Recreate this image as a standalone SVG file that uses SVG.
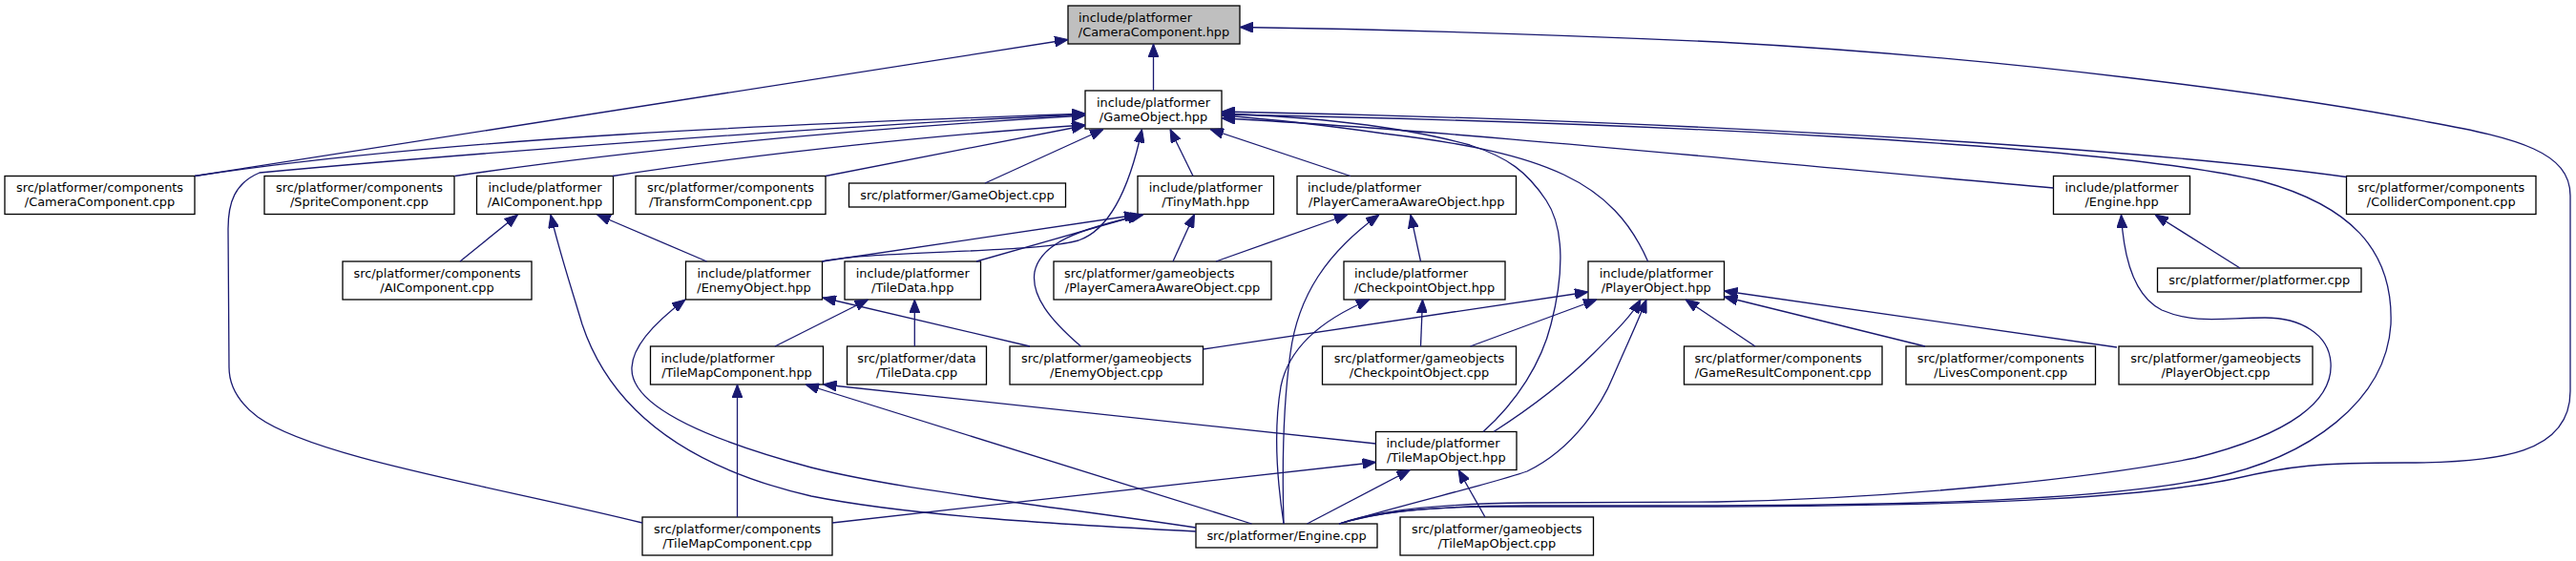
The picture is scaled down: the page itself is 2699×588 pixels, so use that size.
<svg xmlns="http://www.w3.org/2000/svg" width="2699" height="588" viewBox="0 0 2699 588">
<defs>
<style>
.n rect{fill:#fff;stroke:#000;stroke-width:1.3}
.root rect{fill:#bfbfbf}
text{font-family:"DejaVu Sans","Liberation Sans",sans-serif;font-size:12.9px;fill:#000}
.c{text-anchor:middle}
.l{text-anchor:start}
#edges path{fill:none;stroke:#191970;stroke-width:1.3;marker-end:url(#a)}
</style>
<marker id="a" viewBox="0 0 14 11" refX="14" refY="5.5" markerWidth="14" markerHeight="11" markerUnits="userSpaceOnUse" orient="auto">
<path d="M0,0 L14,5.5 L0,11 z" fill="#191970" stroke="#191970" stroke-width="1"/>
</marker>
</defs>
<rect width="2699" height="588" fill="#fff"/>
<g id="nodes">
<g id="n_CameraComponent_hpp" class="n root"><rect x="1119" y="6" width="180" height="40"/><text class="l" x="1130" y="22.5">include/platformer</text><text class="c" x="1209" y="37.5">/CameraComponent.hpp</text></g>
<g id="n_GameObject_hpp" class="n"><rect x="1137" y="95" width="143" height="40"/><text class="c" x="1208.5" y="111.5">include/platformer</text><text class="c" x="1208.5" y="126.5">/GameObject.hpp</text></g>
<g id="n_CameraComponent_cpp" class="n"><rect x="5" y="184.5" width="199" height="40"/><text class="c" x="104.5" y="201">src/platformer/components</text><text class="c" x="104.5" y="216">/CameraComponent.cpp</text></g>
<g id="n_SpriteComponent_cpp" class="n"><rect x="277" y="184.5" width="199" height="40"/><text class="c" x="376.5" y="201">src/platformer/components</text><text class="c" x="376.5" y="216">/SpriteComponent.cpp</text></g>
<g id="n_AIComponent_hpp" class="n"><rect x="499.5" y="184.5" width="143" height="40"/><text class="c" x="571" y="201">include/platformer</text><text class="c" x="571" y="216">/AIComponent.hpp</text></g>
<g id="n_TransformComponent_cpp" class="n"><rect x="666" y="184.5" width="199" height="40"/><text class="c" x="765.5" y="201">src/platformer/components</text><text class="c" x="765.5" y="216">/TransformComponent.cpp</text></g>
<g id="n_GameObject_cpp" class="n"><rect x="889.5" y="192" width="227" height="25"/><text class="c" x="1003" y="209">src/platformer/GameObject.cpp</text></g>
<g id="n_TinyMath_hpp" class="n"><rect x="1192" y="184.5" width="142.5" height="40"/><text class="c" x="1263.25" y="201">include/platformer</text><text class="c" x="1263.25" y="216">/TinyMath.hpp</text></g>
<g id="n_PlayerCameraAwareObject_hpp" class="n"><rect x="1359" y="184.5" width="229.5" height="40"/><text class="l" x="1370" y="201">include/platformer</text><text class="c" x="1473.75" y="216">/PlayerCameraAwareObject.hpp</text></g>
<g id="n_Engine_hpp" class="n"><rect x="2151.5" y="184.5" width="143" height="40"/><text class="c" x="2223" y="201">include/platformer</text><text class="c" x="2223" y="216">/Engine.hpp</text></g>
<g id="n_ColliderComponent_cpp" class="n"><rect x="2458.5" y="184.5" width="198.5" height="40"/><text class="c" x="2557.75" y="201">src/platformer/components</text><text class="c" x="2557.75" y="216">/ColliderComponent.cpp</text></g>
<g id="n_AIComponent_cpp" class="n"><rect x="359" y="274" width="198" height="40"/><text class="c" x="458" y="290.5">src/platformer/components</text><text class="c" x="458" y="305.5">/AIComponent.cpp</text></g>
<g id="n_EnemyObject_hpp" class="n"><rect x="718.5" y="274" width="143" height="40"/><text class="c" x="790" y="290.5">include/platformer</text><text class="c" x="790" y="305.5">/EnemyObject.hpp</text></g>
<g id="n_TileData_hpp" class="n"><rect x="885" y="274" width="142.5" height="40"/><text class="c" x="956.25" y="290.5">include/platformer</text><text class="c" x="956.25" y="305.5">/TileData.hpp</text></g>
<g id="n_PlayerCameraAwareObject_cpp" class="n"><rect x="1104" y="274" width="228" height="40"/><text class="l" x="1115" y="290.5">src/platformer/gameobjects</text><text class="c" x="1218" y="305.5">/PlayerCameraAwareObject.cpp</text></g>
<g id="n_CheckpointObject_hpp" class="n"><rect x="1408" y="274" width="169" height="40"/><text class="l" x="1419" y="290.5">include/platformer</text><text class="c" x="1492.5" y="305.5">/CheckpointObject.hpp</text></g>
<g id="n_PlayerObject_hpp" class="n"><rect x="1664" y="274" width="142.5" height="40"/><text class="c" x="1735.25" y="290.5">include/platformer</text><text class="c" x="1735.25" y="305.5">/PlayerObject.hpp</text></g>
<g id="n_platformer_cpp" class="n"><rect x="2260.5" y="281" width="213.5" height="25"/><text class="c" x="2367.25" y="298">src/platformer/platformer.cpp</text></g>
<g id="n_TileMapComponent_hpp" class="n"><rect x="681.5" y="363" width="181" height="40"/><text class="l" x="692.5" y="379.5">include/platformer</text><text class="c" x="772" y="394.5">/TileMapComponent.hpp</text></g>
<g id="n_TileData_cpp" class="n"><rect x="887.5" y="363" width="146" height="40"/><text class="c" x="960.5" y="379.5">src/platformer/data</text><text class="c" x="960.5" y="394.5">/TileData.cpp</text></g>
<g id="n_EnemyObject_cpp" class="n"><rect x="1058" y="363" width="202.5" height="40"/><text class="c" x="1159.25" y="379.5">src/platformer/gameobjects</text><text class="c" x="1159.25" y="394.5">/EnemyObject.cpp</text></g>
<g id="n_CheckpointObject_cpp" class="n"><rect x="1385.5" y="363" width="203" height="40"/><text class="c" x="1487" y="379.5">src/platformer/gameobjects</text><text class="c" x="1487" y="394.5">/CheckpointObject.cpp</text></g>
<g id="n_GameResultComponent_cpp" class="n"><rect x="1764.5" y="363" width="207.5" height="40"/><text class="l" x="1775.5" y="379.5">src/platformer/components</text><text class="c" x="1868.25" y="394.5">/GameResultComponent.cpp</text></g>
<g id="n_LivesComponent_cpp" class="n"><rect x="1997" y="363" width="198.5" height="40"/><text class="c" x="2096.25" y="379.5">src/platformer/components</text><text class="c" x="2096.25" y="394.5">/LivesComponent.cpp</text></g>
<g id="n_PlayerObject_cpp" class="n"><rect x="2220" y="363" width="203" height="40"/><text class="c" x="2321.5" y="379.5">src/platformer/gameobjects</text><text class="c" x="2321.5" y="394.5">/PlayerObject.cpp</text></g>
<g id="n_TileMapObject_hpp" class="n"><rect x="1441.5" y="452.5" width="147.5" height="40"/><text class="l" x="1452.5" y="469">include/platformer</text><text class="c" x="1515.25" y="484">/TileMapObject.hpp</text></g>
<g id="n_TileMapComponent_cpp" class="n"><rect x="673" y="542" width="199" height="40"/><text class="c" x="772.5" y="558.5">src/platformer/components</text><text class="c" x="772.5" y="573.5">/TileMapComponent.cpp</text></g>
<g id="n_Engine_cpp" class="n"><rect x="1253" y="549" width="190" height="25"/><text class="c" x="1348" y="566">src/platformer/Engine.cpp</text></g>
<g id="n_TileMapObject_cpp" class="n"><rect x="1467" y="542" width="202.5" height="40"/><text class="c" x="1568.25" y="558.5">src/platformer/gameobjects</text><text class="c" x="1568.25" y="573.5">/TileMapObject.cpp</text></g>
</g>
<g id="edges">
<path d="M1208.5,95 L1208.5,46"/>
<path d="M204,184.5 L1119,41.5"/>
<path d="M1403,549 C1440,538 1480,532 1560,531 L1799,531 C2100,530 2250,520 2340,502 C2400,488 2430,485 2520,485 C2620,485 2693,475 2693,410 L2693,205 C2693,160 2640,145 2545,128 C2400,100 2100,60 1800,44 C1600,35 1400,30 1299,28.5"/>
<path d="M204,184.5 C500,140 900,128 1137,119"/>
<path d="M673,548 C520,510 330,480 270,437 C245,418 240,400 240,385 L239,240 C239,212 246,192 272,181 C500,160 900,130 1137,120"/>
<path d="M476.5,184.5 C700,152 950,132 1137,121"/>
<path d="M642,184.5 C800,160 1000,140 1137,131"/>
<path d="M865,184.5 L1137,131.5"/>
<path d="M1032,192 L1156,135.5"/>
<path d="M861.5,274 C920,262 1080,266 1130,252 C1165,240 1185,190 1196.5,135.5"/>
<path d="M1250,184.5 L1226,135.5"/>
<path d="M1415,184.5 L1268,135.5"/>
<path d="M2458.5,185.5 C2200,150 1700,125 1280,117"/>
<path d="M2151.5,197 C1900,175 1500,135 1280,124"/>
<path d="M1726.6,274 C1690,190 1620,160 1450,140 C1380,130 1320,124 1280,121"/>
<path d="M1554,452.5 C1590,420 1615,380 1625,340 C1638,290 1640,240 1620,210 C1600,180 1580,165 1540,152 C1460,130 1360,122 1280,119"/>
<path d="M1403,549 C1440,537 1500,530 1600,530 L1799,530 C2000,529 2200,525 2316,501 C2420,480 2500,420 2505,340 C2508,260 2460,215 2370,190 C2200,150 1700,128 1280,120"/>
<path d="M1403,549 C1440,536 1500,528 1600,527 L1799,526 C2000,522 2200,500 2300,480 C2400,455 2445,420 2442,380 C2440,350 2410,333 2373,333 C2330,333 2300,340 2265,325 C2235,310 2225,270 2222.5,225"/>
<path d="M2347,281 L2258,225"/>
<path d="M482,274 L542.5,225"/>
<path d="M1253,557 C1100,549 950,540 850,520 C720,490 640,430 610,340 C595,290 585,260 577,225"/>
<path d="M740.5,274 L625.7,225"/>
<path d="M1253,553 C1100,530 950,515 850,490 C720,455 660,420 662,385 C663,360 690,335 718,314"/>
<path d="M1079,363 L862,312"/>
<path d="M861.5,274 L1192,225"/>
<path d="M1023,274 L1195,225"/>
<path d="M1132.5,363 C1100,335 1080,310 1084,285 C1090,255 1130,240 1198,225"/>
<path d="M1229,274 L1251.5,224.5"/>
<path d="M1274,274 L1412,225"/>
<path d="M1345,549 C1343,480 1345,420 1352,370 C1360,310 1390,265 1445,225"/>
<path d="M1345,549 C1336,490 1336,440 1342,405 C1350,365 1385,335 1435,314"/>
<path d="M1488.5,363 L1490.5,314"/>
<path d="M1488.5,274 L1478,225"/>
<path d="M1260.5,366 L1664,306"/>
<path d="M1540.5,363 L1673,314"/>
<path d="M1565,452.5 C1600,430 1640,400 1670,370 C1695,345 1710,330 1719,314"/>
<path d="M1403,549 C1480,526 1560,508 1600,494 C1650,470 1680,420 1690,395 C1705,360 1715,340 1725,314"/>
<path d="M1839,363 L1766,314"/>
<path d="M2017,363 L1806.5,311"/>
<path d="M2218,364 L1806.5,305"/>
<path d="M772.5,542 L772.5,403"/>
<path d="M812,363 L909.5,314"/>
<path d="M958.3,363 L958.3,314"/>
<path d="M1441.5,465 L862.5,403"/>
<path d="M1311.5,549 L844,403"/>
<path d="M872,548 L1441.5,484.5"/>
<path d="M1369.5,549 L1477.5,492.5"/>
<path d="M1556,542 L1528,492.5"/>
</g>
</svg>
